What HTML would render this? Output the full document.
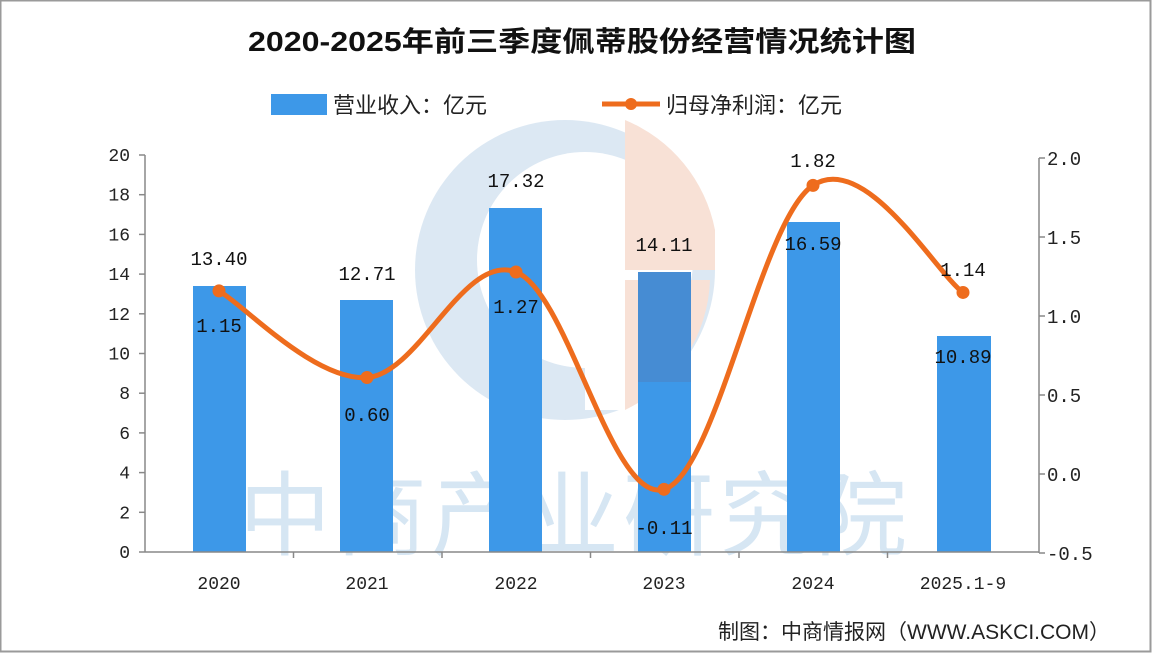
<!DOCTYPE html>
<html><head><meta charset="utf-8"><style>
body{margin:0;background:#fff;}
svg{display:block;}
text{font-family:"Liberation Sans","Noto Sans CJK SC",sans-serif;}
.m text, text.m{font-family:"Liberation Mono","Noto Sans CJK SC",monospace;}
</style></head><body>
<svg width="1152" height="654" viewBox="0 0 1152 654" xmlns="http://www.w3.org/2000/svg">
<rect x="0" y="0" width="1152" height="654" fill="#fff"/>
<rect x="0.5" y="0.5" width="1150" height="651" fill="none" stroke="#9a9a9a" stroke-width="2"/>
<!-- watermark -->
<circle cx="565" cy="270" r="150" fill="#d8e6f2" opacity="0.9"/>
<circle cx="585" cy="260" r="108" fill="#fff"/>
<path d="M625 120 A150 150 0 0 1 715 230 L715 270 L625 270 Z" fill="#f8e1d6"/>
<path d="M625 280 L710 280 A150 150 0 0 1 625 410 Z" fill="#f8e1d6"/>
<rect x="585" y="270" width="40" height="140" fill="#fff"/>
<text x="575" y="548" text-anchor="middle" font-size="92" fill="#d6e6f3" letter-spacing="4">中商产业研究院</text>
<!-- title -->
<text x="582" y="51" text-anchor="middle" font-size="28" font-weight="bold" fill="#111" textLength="668" lengthAdjust="spacingAndGlyphs">2020-2025年前三季度佩蒂股份经营情况统计图</text>
<!-- legend -->
<rect x="271" y="94" width="56" height="21" fill="#3d98e8"/>
<text x="333" y="113" font-size="22" fill="#222">营业收入：亿元</text>
<line x1="602" y1="104" x2="660" y2="104" stroke="#ee6c1d" stroke-width="5"/>
<circle cx="631" cy="104" r="6" fill="#ee6c1d"/>
<text x="666" y="113" font-size="22" fill="#222">归母净利润：亿元</text>
<!-- bars -->
<g fill="#3d98e8">
<rect x="193" y="286" width="53" height="266"/>
<rect x="340" y="300" width="53" height="252"/>
<rect x="489" y="208" width="53" height="344"/>
<rect x="638" y="272" width="53" height="280"/>
<rect x="787" y="222" width="53" height="330"/>
<rect x="937" y="336" width="54" height="216"/>
</g>
<rect x="638" y="272" width="53" height="110" fill="#4d84c4" opacity="0.6"/>
<!-- axes -->
<g stroke="#888" stroke-width="1.5" fill="none">
<line x1="145" y1="155" x2="145" y2="552"/>
<line x1="1039" y1="158" x2="1039" y2="553"/>
<line x1="145" y1="552" x2="1039" y2="552"/>
</g>
<g id="lt" stroke="#888" stroke-width="1.5"></g>
<g id="lbl" class="m" font-size="18" fill="#222"></g>
<path id="ln" fill="none" stroke="#ee6c1d" stroke-width="5" stroke-linecap="round"/>
<g id="pts" fill="#ee6c1d"></g>
<g class="m" font-size="19" fill="#111" text-anchor="middle">
<text x="219" y="265">13.40</text><text x="219" y="332">1.15</text>
<text x="367" y="280">12.71</text><text x="367" y="421">0.60</text>
<text x="516" y="187">17.32</text><text x="516" y="313">1.27</text>
<text x="664" y="251">14.11</text><text x="664" y="534">-0.11</text>
<text x="813" y="167">1.82</text><text x="813" y="250">16.59</text>
<text x="963" y="276">1.14</text><text x="963" y="363">10.89</text>
</g>
<text x="1110" y="639" text-anchor="end" font-size="21" fill="#222">制图：中商情报网（WWW.ASKCI.COM）</text>
</svg>
<script>
var ns="http://www.w3.org/2000/svg";
function el(p,t,a,txt){var e=document.createElementNS(ns,t);for(var k in a)e.setAttribute(k,a[k]);if(txt!=null)e.textContent=txt;document.getElementById(p).appendChild(e);}
for(var v=0;v<=20;v+=2){var y=552-v*19.85;el('lt','line',{x1:139,x2:145,y1:y,y2:y});el('lbl','text',{x:130,y:y+6,'text-anchor':'end'},v);}
var rv=["2.0","1.5","1.0","0.5","0.0","-0.5"];
for(var i=0;i<6;i++){var y=158+i*79;el('lt','line',{x1:1039,x2:1045,y1:y,y2:y});el('lbl','text',{x:1047,y:y+7,'font-size':19},rv[i]);}
var cx=[219,367,516,664,813,963],lab=["2020","2021","2022","2023","2024","2025.1-9"];
for(var i=0;i<6;i++){el('lbl','text',{x:cx[i],y:589,'text-anchor':'middle'},lab[i]);}
for(var i=1;i<6;i++){var x=145+i*148.5;el('lt','line',{x1:x,x2:x,y1:552,y2:558});}
var vals=[1.15,0.60,1.27,-0.11,1.82,1.14],P=vals.map(function(v,i){return [cx[i],472-v*157.5];});
var d="M"+P[0][0]+" "+P[0][1];
for(var i=0;i<5;i++){var p0=P[i-1]||P[i],p1=P[i],p2=P[i+1],p3=P[i+2]||P[i+1];var t=0.16*2.2;
d+=" C"+(p1[0]+(p2[0]-p0[0])*t/2)+" "+(p1[1]+(p2[1]-p0[1])*t/2)+" "+(p2[0]-(p3[0]-p1[0])*t/2)+" "+(p2[1]-(p3[1]-p1[1])*t/2)+" "+p2[0]+" "+p2[1];}
document.getElementById('ln').setAttribute('d',d);
P.forEach(function(p){el('pts','circle',{cx:p[0],cy:p[1],r:6.5});});
</script>
</body></html>
